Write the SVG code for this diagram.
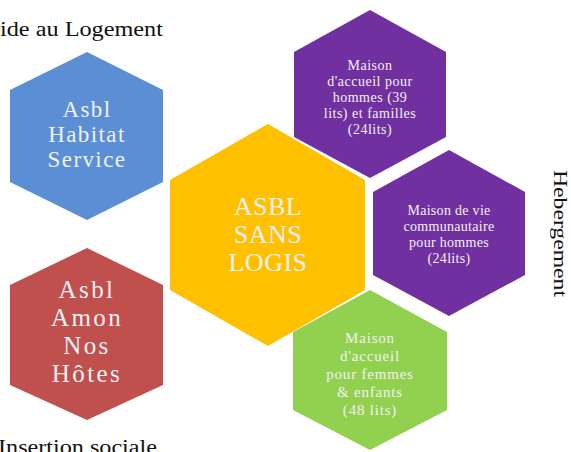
<svg xmlns="http://www.w3.org/2000/svg" width="571" height="452" viewBox="0 0 571 452">
<style>
.lbl{font-family:"Liberation Serif","DejaVu Serif",serif;fill:#111;}
.t{font-family:"Liberation Serif","DejaVu Serif",serif;fill:#f4f0f6;text-anchor:middle;}
.blue{fill:#5A8FD6;}
.red{fill:#C0504D;}
.yellow{fill:#FFC000;}
.purple{fill:#7030A0;}
.green{fill:#92D050;}
</style>
<rect width="571" height="452" fill="#fff"/>
<text class="lbl" x="0" y="36" font-size="20" textLength="163" lengthAdjust="spacingAndGlyphs">ide au Logement</text>
<text class="lbl" x="-2" y="454" font-size="20" textLength="159" lengthAdjust="spacingAndGlyphs">Insertion sociale</text>
<text class="lbl" font-size="18" textLength="127" lengthAdjust="spacingAndGlyphs" transform="translate(554,170) rotate(90)">Hebergement</text>

<g id="habitat-service">
<polygon class="blue" points="87,52 163,90 163,182 87,220 10,182 10,90"/>
<text class="t" font-size="23" letter-spacing="1.4"><tspan x="87" y="117">Asbl</tspan><tspan x="87" y="142">Habitat</tspan><tspan x="87" y="167">Service</tspan></text>
</g>
<g id="amon-nos-hotes">
<polygon class="red" points="87,248 163,285 163,385 87,420 10,385 10,285"/>
<text class="t" font-size="25" letter-spacing="2.4"><tspan x="87" y="298">Asbl</tspan><tspan x="87" y="326">Amon</tspan><tspan x="87" y="354">Nos</tspan><tspan x="87" y="382">Hôtes</tspan></text>
</g>
<g id="sans-logis">
<polygon class="yellow" points="268,124 365,180 365,290 268,346 170,290 170,180"/>
<text class="t" font-size="26" letter-spacing="0.5"><tspan x="268" y="215">ASBL</tspan><tspan x="268" y="243">SANS</tspan><tspan x="268" y="271">LOGIS</tspan></text>
</g>
<g id="maison-accueil-hommes">
<polygon class="purple" points="370,10 446,52 446,137 370,178 294,137 294,52"/>
<text class="t" font-size="14" letter-spacing="0.5"><tspan x="370" y="70">Maison</tspan><tspan x="370" y="86">d'accueil pour</tspan><tspan x="370" y="102">hommes  (39</tspan><tspan x="370" y="118">lits) et familles</tspan><tspan x="370" y="134">(24lits)</tspan></text>
</g>
<g id="maison-vie-communautaire">
<polygon class="purple" points="449,150 525,192 525,275 449,316 373,275 373,192"/>
<text class="t" font-size="14" letter-spacing="0.3"><tspan x="449" y="215">Maison de vie</tspan><tspan x="449" y="231">communautaire</tspan><tspan x="449" y="247">pour hommes</tspan><tspan x="449" y="263">(24lits)</tspan></text>
</g>
<g id="maison-accueil-femmes">
<polygon class="green" points="370,290 447,332 447,410 370,450 293,410 293,332"/>
<text class="t" font-size="15" letter-spacing="0.8"><tspan x="370" y="343">Maison</tspan><tspan x="370" y="361">d'accueil</tspan><tspan x="370" y="379">pour femmes</tspan><tspan x="370" y="397">&amp; enfants</tspan><tspan x="370" y="415">(48 lits)</tspan></text>
</g>
<g id="connectors"/>
</svg>
